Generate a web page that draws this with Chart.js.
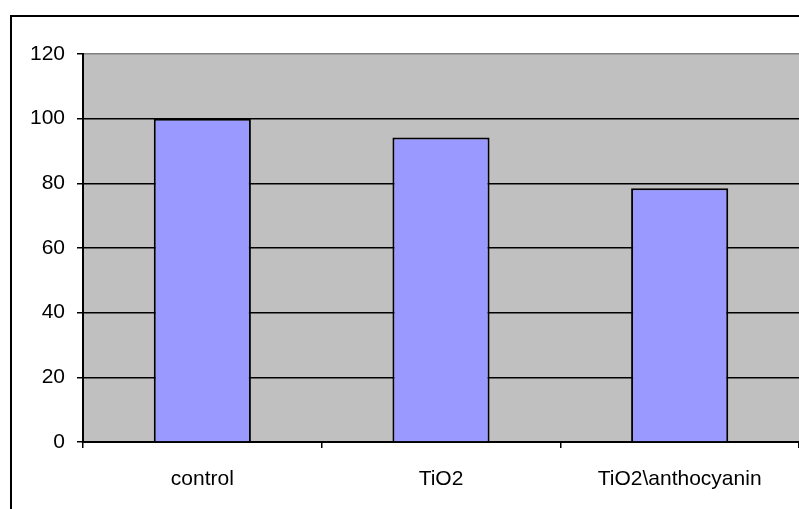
<!DOCTYPE html>
<html>
<head>
<meta charset="utf-8">
<script src="https://cdn.jsdelivr.net/npm/chart.js@4.4.1/dist/chart.umd.min.js"></script>
<style>
  html, body { margin: 0; padding: 0; background: #fff; }
  #wrap { position: relative; width: 799px; height: 509px; overflow: hidden; }
  #frame { position: absolute; left: 10px; top: 15px; width: 900px; height: 600px; border: 2px solid #000; box-sizing: border-box; }
  #c { position: absolute; left: 0; top: 0; }
</style>
</head>
<body>
<div id="wrap">
  <div id="frame"></div>
  <canvas id="c" width="799" height="509"></canvas>
</div>
<script>
const categories = ['control', 'TiO2', 'TiO2\\anthocyanin'];
const values = [100, 94.2, 78.5];
const yTicks = [0, 20, 40, 60, 80, 100, 120];

// grey plot area behind the bars
const plotBackground = {
  id: 'plotBackground',
  beforeDraw(chart) {
    const { ctx, chartArea: a } = chart;
    ctx.save();
    ctx.fillStyle = '#C0C0C0';
    ctx.fillRect(a.left, a.top, a.right - a.left, a.bottom - a.top);
    ctx.restore();
  }
};

const font = { family: '"Liberation Sans", Arial, sans-serif', size: 21 };

new Chart(document.getElementById('c'), {
  type: 'bar',
  data: {
    labels: categories,
    datasets: [{
      data: values,
      backgroundColor: '#9999FF',
      borderColor: '#000000',
      borderWidth: 2,
      categoryPercentage: 1,
      barPercentage: 0.407
    }]
  },
  options: {
    responsive: false,
    animation: false,
    layout: { padding: { left: 0, top: 54, right: -2, bottom: 0 } },
    plugins: { legend: { display: false }, tooltip: { enabled: false } },
    scales: {
      x: {
        afterFit(s) { s.height = 67; },
        grid: { display: true, drawOnChartArea: false, drawTicks: true, tickLength: 6, color: '#000', lineWidth: 1.5, offset: true },
        border: { display: true, color: '#000', width: 2 },
        ticks: { color: '#000', font, padding: 19, maxRotation: 0, autoSkip: false }
      },
      y: {
        min: 0, max: 120,
        afterFit(s) { s.width = 83; },
        afterBuildTicks(s) { s.ticks = yTicks.map(v => ({ value: v })); },
        grid: {
          color: ctx => (ctx.tick && ctx.tick.value === 120 ? '#808080' : '#000'),
          tickColor: '#000',
          lineWidth: 1.5,
          drawTicks: true,
          tickLength: 6
        },
        border: { display: true, color: '#000', width: 2 },
        ticks: { color: '#000', font, padding: 12, stepSize: 20 }
      }
    }
  },
  plugins: [plotBackground]
});
</script>
</body>
</html>
